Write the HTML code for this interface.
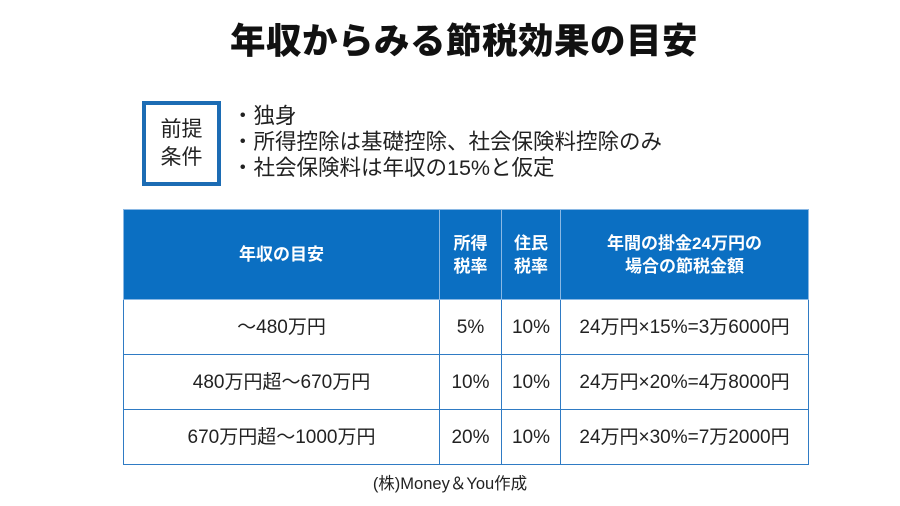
<!DOCTYPE html>
<html><head><meta charset="utf-8"><style>
body{margin:0;width:900px;height:506px;background:#fff;font-family:"Liberation Sans","Noto Sans CJK JP",sans-serif;color:#222;position:relative;overflow:hidden}
.t{position:absolute;left:14px;width:900px;top:16px;text-align:center;font-size:35.5px;font-weight:900;color:#111;letter-spacing:0.5px;line-height:50px}
.box{position:absolute;left:142px;top:101px;width:71px;height:77px;border:4px solid #1c6cb4;font-size:21px;line-height:28px;text-align:center;display:flex;align-items:center;justify-content:center}
.li{position:absolute;left:232px;font-size:21.5px;line-height:26px}
table{position:absolute;left:123px;top:209px;border-collapse:collapse;width:686px;table-layout:fixed}
td,th{border:1px solid #2f7bc4;text-align:center;font-size:19px;padding:0;line-height:24px;vertical-align:middle}
th{background:#0b6fc2;color:#fff;font-weight:bold;height:89px;line-height:23px;border-color:#8ab8e4;font-size:17px}
td{height:52px;padding-top:2px}
.f{position:absolute;left:0;width:900px;top:470px;text-align:center;font-size:16.5px}
</style></head><body>
<div class="t">年収からみる節税効果の目安</div>
<div class="box">前提<br>条件</div>
<div class="li" style="top:103px">・独身</div>
<div class="li" style="top:129px">・所得控除は基礎控除、社会保険料控除のみ</div>
<div class="li" style="top:155px">・社会保険料は年収の15%と仮定</div>
<table>
<colgroup><col style="width:316px"><col style="width:62px"><col style="width:59px"><col></colgroup>
<tr><th>年収の目安</th><th>所得<br>税率</th><th>住民<br>税率</th><th>年間の掛金24万円の<br>場合の節税金額</th></tr>
<tr><td>〜480万円</td><td>5%</td><td>10%</td><td>24万円×15%=3万6000円</td></tr>
<tr><td>480万円超〜670万円</td><td>10%</td><td>10%</td><td>24万円×20%=4万8000円</td></tr>
<tr><td>670万円超〜1000万円</td><td>20%</td><td>10%</td><td>24万円×30%=7万2000円</td></tr>
</table>
<div class="f">(株)Money＆You作成</div>
</body></html>
